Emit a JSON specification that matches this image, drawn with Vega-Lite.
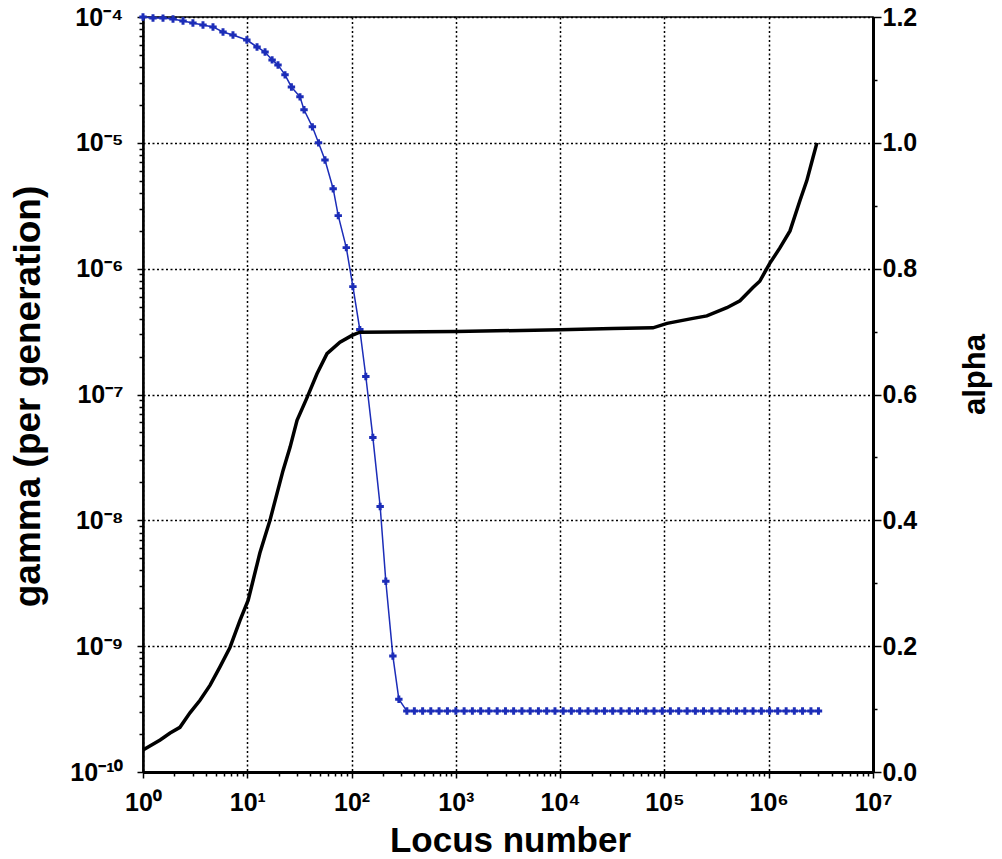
{
  "$schema": "https://vega.github.io/schema/vega-lite/v6.json",
  "width": 730,
  "height": 755,
  "autosize": {"type": "none"},
  "padding": {"left": 143, "top": 17, "right": 129, "bottom": 87},
  "background": "white",
  "config": {
    "view": {"stroke": "black", "strokeWidth": 1.5},
    "font": "Liberation Sans"
  },
  "datasets": {
    "gamma": [
      {"L": 1, "gamma": 1e-4},
      {"L": 1.247, "gamma": 9.82e-5},
      {"L": 1.555, "gamma": 9.8e-5},
      {"L": 1.94, "gamma": 9.64e-5},
      {"L": 2.42, "gamma": 9.29e-5},
      {"L": 3.01, "gamma": 8.95e-5},
      {"L": 3.76, "gamma": 8.65e-5},
      {"L": 4.69, "gamma": 8.34e-5},
      {"L": 5.85, "gamma": 7.6e-5},
      {"L": 7.29, "gamma": 7.19e-5},
      {"L": 9.9, "gamma": 6.56e-5},
      {"L": 12.4, "gamma": 5.78e-5},
      {"L": 14.8, "gamma": 5.27e-5},
      {"L": 17.3, "gamma": 4.56e-5},
      {"L": 19.7, "gamma": 4.16e-5},
      {"L": 23.0, "gamma": 3.47e-5},
      {"L": 26.5, "gamma": 2.78e-5},
      {"L": 32.0, "gamma": 2.32e-5},
      {"L": 35.0, "gamma": 1.83e-5},
      {"L": 42.1, "gamma": 1.34e-5},
      {"L": 48.2, "gamma": 1.0e-5},
      {"L": 55.6, "gamma": 7.3e-6},
      {"L": 66.6, "gamma": 4.32e-6},
      {"L": 74.5, "gamma": 2.64e-6},
      {"L": 89, "gamma": 1.47e-6},
      {"L": 103, "gamma": 7.2e-7},
      {"L": 120, "gamma": 3.28e-7},
      {"L": 137, "gamma": 1.39e-7},
      {"L": 160, "gamma": 4.56e-8},
      {"L": 188, "gamma": 1.29e-8},
      {"L": 213, "gamma": 3.28e-9},
      {"L": 249, "gamma": 8.34e-10},
      {"L": 284, "gamma": 3.79e-10},
      {"L": 339, "gamma": 3.05e-10},
      {"L": 400, "gamma": 3.05e-10},
      {"L": 480, "gamma": 3.05e-10},
      {"L": 575, "gamma": 3.05e-10},
      {"L": 690, "gamma": 3.05e-10},
      {"L": 830, "gamma": 3.05e-10},
      {"L": 1000, "gamma": 3.05e-10},
      {"L": 1200, "gamma": 3.05e-10},
      {"L": 1440, "gamma": 3.05e-10},
      {"L": 1730, "gamma": 3.05e-10},
      {"L": 2070, "gamma": 3.05e-10},
      {"L": 2490, "gamma": 3.05e-10},
      {"L": 2990, "gamma": 3.05e-10},
      {"L": 3580, "gamma": 3.05e-10},
      {"L": 4300, "gamma": 3.05e-10},
      {"L": 5160, "gamma": 3.05e-10},
      {"L": 6190, "gamma": 3.05e-10},
      {"L": 7430, "gamma": 3.05e-10},
      {"L": 8920, "gamma": 3.05e-10},
      {"L": 10700, "gamma": 3.05e-10},
      {"L": 12800, "gamma": 3.05e-10},
      {"L": 15400, "gamma": 3.05e-10},
      {"L": 18500, "gamma": 3.05e-10},
      {"L": 22200, "gamma": 3.05e-10},
      {"L": 26600, "gamma": 3.05e-10},
      {"L": 31900, "gamma": 3.05e-10},
      {"L": 38300, "gamma": 3.05e-10},
      {"L": 46000, "gamma": 3.05e-10},
      {"L": 55200, "gamma": 3.05e-10},
      {"L": 66200, "gamma": 3.05e-10},
      {"L": 79500, "gamma": 3.05e-10},
      {"L": 95400, "gamma": 3.05e-10},
      {"L": 114000, "gamma": 3.05e-10},
      {"L": 137000, "gamma": 3.05e-10},
      {"L": 165000, "gamma": 3.05e-10},
      {"L": 198000, "gamma": 3.05e-10},
      {"L": 237000, "gamma": 3.05e-10},
      {"L": 285000, "gamma": 3.05e-10},
      {"L": 342000, "gamma": 3.05e-10},
      {"L": 410000, "gamma": 3.05e-10},
      {"L": 492000, "gamma": 3.05e-10},
      {"L": 590000, "gamma": 3.05e-10},
      {"L": 708000, "gamma": 3.05e-10},
      {"L": 850000, "gamma": 3.05e-10},
      {"L": 1020000, "gamma": 3.05e-10},
      {"L": 1220000, "gamma": 3.05e-10},
      {"L": 1470000, "gamma": 3.05e-10},
      {"L": 1760000, "gamma": 3.05e-10},
      {"L": 2110000, "gamma": 3.05e-10},
      {"L": 2540000, "gamma": 3.05e-10},
      {"L": 3000000, "gamma": 3.05e-10}
    ],
    "alpha": [
      {"L": 1, "alpha": 0.035},
      {"L": 1.46, "alpha": 0.051},
      {"L": 1.82, "alpha": 0.062},
      {"L": 2.26, "alpha": 0.071},
      {"L": 2.82, "alpha": 0.094},
      {"L": 3.52, "alpha": 0.114},
      {"L": 4.4, "alpha": 0.138},
      {"L": 5.47, "alpha": 0.167},
      {"L": 6.82, "alpha": 0.198},
      {"L": 8.51, "alpha": 0.241},
      {"L": 10.2, "alpha": 0.273},
      {"L": 13.2, "alpha": 0.348},
      {"L": 16.5, "alpha": 0.4},
      {"L": 22.0, "alpha": 0.479},
      {"L": 25.7, "alpha": 0.516},
      {"L": 30.0, "alpha": 0.559},
      {"L": 37.4, "alpha": 0.595},
      {"L": 46.6, "alpha": 0.633},
      {"L": 58.1, "alpha": 0.665},
      {"L": 77.4, "alpha": 0.683},
      {"L": 101, "alpha": 0.694},
      {"L": 120, "alpha": 0.699},
      {"L": 1000, "alpha": 0.7},
      {"L": 10000, "alpha": 0.703},
      {"L": 32100, "alpha": 0.705},
      {"L": 77600, "alpha": 0.706},
      {"L": 106000, "alpha": 0.713},
      {"L": 188000, "alpha": 0.721},
      {"L": 255000, "alpha": 0.725},
      {"L": 397000, "alpha": 0.738},
      {"L": 530000, "alpha": 0.749},
      {"L": 706000, "alpha": 0.77},
      {"L": 820000, "alpha": 0.78},
      {"L": 1020000, "alpha": 0.808},
      {"L": 1280000, "alpha": 0.833},
      {"L": 1600000, "alpha": 0.86},
      {"L": 1990000, "alpha": 0.908},
      {"L": 2320000, "alpha": 0.94},
      {"L": 2650000, "alpha": 0.976},
      {"L": 2900000, "alpha": 1.0}
    ]
  },
  "layer": [
    {
      "data": {"name": "gamma"},
      "mark": {
        "type": "line",
        "color": "#1c2db8",
        "strokeWidth": 1.5,
        "point": {"shape": "cross", "filled": true, "size": 55, "color": "#1c2db8"}
      },
      "encoding": {
        "x": {
          "field": "L",
          "type": "quantitative",
          "scale": {"type": "log", "domain": [1, 10000000]},
          "axis": {
            "title": "Locus number",
            "values": [1,2,3,4,5,6,7,8,9,10,20,30,40,50,60,70,80,90,100,200,300,400,500,600,700,800,900,1000,2000,3000,4000,5000,6000,7000,8000,9000,10000,20000,30000,40000,50000,60000,70000,80000,90000,100000,200000,300000,400000,500000,600000,700000,800000,900000,1000000,2000000,3000000,4000000,5000000,6000000,7000000,8000000,9000000,10000000],
            "labelExpr": "abs(log(datum.value)/LN10 - round(log(datum.value)/LN10)) < 0.001 ? '10' + ['⁰','¹','²','³','⁴','⁵','⁶','⁷'][round(log(datum.value)/LN10)] : ''",
            "tickSize": {"condition": {"test": "abs(log(datum.value)/LN10 - round(log(datum.value)/LN10)) < 0.001", "value": 6}, "value": 4},
            "grid": true,
            "gridOpacity": {"condition": {"test": "abs(log(datum.value)/LN10 - round(log(datum.value)/LN10)) < 0.001", "value": 1}, "value": 0},
            "gridColor": "black",
            "gridDash": [2, 2.5],
            "gridWidth": 1.5,
            "domainColor": "black",
            "domainWidth": 3,
            "tickColor": "black",
            "tickWidth": 1.5,
            "labelFont": "Liberation Sans",
            "labelFontWeight": "bold",
            "labelFontSize": 25,
            "labelColor": "black",
            "labelPadding": 12,
            "labelFlush": false,
            "labelOverlap": false,
            "labelBound": false,
            "titleFont": "Liberation Sans",
            "titleFontSize": 35,
            "titleFontWeight": "bold",
            "titleColor": "black",
            "titleX": 367,
            "titleY": 79,
            "titleBaseline": "alphabetic",
            "titleAlign": "center"
          }
        },
        "y": {
          "field": "gamma",
          "type": "quantitative",
          "scale": {"type": "log", "domain": [1e-10, 1e-4]},
          "axis": {
            "orient": "left",
            "title": "gamma (per generation)",
            "values": [1e-10,2e-10,3e-10,4e-10,5e-10,6e-10,7e-10,8e-10,9e-10,1e-9,2e-9,3e-9,4e-9,5e-9,6e-9,7e-9,8e-9,9e-9,1e-8,2e-8,3e-8,4e-8,5e-8,6e-8,7e-8,8e-8,9e-8,1e-7,2e-7,3e-7,4e-7,5e-7,6e-7,7e-7,8e-7,9e-7,1e-6,2e-6,3e-6,4e-6,5e-6,6e-6,7e-6,8e-6,9e-6,1e-5,2e-5,3e-5,4e-5,5e-5,6e-5,7e-5,8e-5,9e-5,1e-4],
            "labelExpr": "abs(log(datum.value)/LN10 - round(log(datum.value)/LN10)) < 0.001 ? '10' + ['⁻¹⁰','⁻⁹','⁻⁸','⁻⁷','⁻⁶','⁻⁵','⁻⁴'][round(log(datum.value)/LN10) + 10] : ''",
            "tickSize": {"condition": {"test": "abs(log(datum.value)/LN10 - round(log(datum.value)/LN10)) < 0.001", "value": 6}, "value": 4},
            "grid": true,
            "gridOpacity": {"condition": {"test": "abs(log(datum.value)/LN10 - round(log(datum.value)/LN10)) < 0.001", "value": 1}, "value": 0},
            "gridColor": "black",
            "gridDash": [2, 2.5],
            "gridWidth": 1.5,
            "domainColor": "black",
            "domainWidth": 2.5,
            "tickColor": "black",
            "tickWidth": 1.5,
            "labelFont": "Liberation Sans",
            "labelFontWeight": "bold",
            "labelFontSize": 25,
            "labelColor": "black",
            "labelPadding": 14,
            "labelFlush": false,
            "labelOverlap": false,
            "labelBound": false,
            "titleFont": "Liberation Sans",
            "titleFontSize": 37,
            "titleFontWeight": "bold",
            "titleColor": "black",
            "titleX": -115,
            "titleY": 379,
            "titleAngle": -90,
            "titleBaseline": "middle",
            "titleAlign": "center"
          }
        }
      }
    },
    {
      "data": {"name": "alpha"},
      "mark": {"type": "line", "color": "black", "strokeWidth": 3.5},
      "encoding": {
        "x": {
          "field": "L",
          "type": "quantitative",
          "scale": {"type": "log", "domain": [1, 10000000]},
          "title": "Locus number"
        },
        "y": {
          "field": "alpha",
          "type": "quantitative",
          "scale": {"domain": [0, 1.2]},
          "axis": {
            "orient": "right",
            "title": "alpha",
            "values": [0, 0.1, 0.2, 0.3, 0.4, 0.5, 0.6, 0.7, 0.8, 0.9, 1.0, 1.1, 1.2],
            "labelExpr": "abs(datum.value*5 - round(datum.value*5)) < 0.001 ? format(datum.value, '.1f') : ''",
            "tickSize": {"condition": {"test": "abs(datum.value*5 - round(datum.value*5)) < 0.001", "value": 8}, "value": 4},
            "grid": false,
            "domainColor": "black",
            "domainWidth": 3,
            "tickColor": "black",
            "tickWidth": 1.5,
            "labelFont": "Liberation Sans",
            "labelFontWeight": "bold",
            "labelFontSize": 25,
            "labelColor": "black",
            "labelPadding": 1,
            "labelFlush": false,
            "labelOverlap": false,
            "labelBound": false,
            "titleFont": "Liberation Sans",
            "titleFontSize": 31,
            "titleFontWeight": "bold",
            "titleColor": "black",
            "titleX": 102,
            "titleY": 357,
            "titleAngle": -90,
            "titleBaseline": "middle",
            "titleAlign": "center"
          }
        }
      }
    }
  ],
  "resolve": {"scale": {"y": "independent"}}
}
